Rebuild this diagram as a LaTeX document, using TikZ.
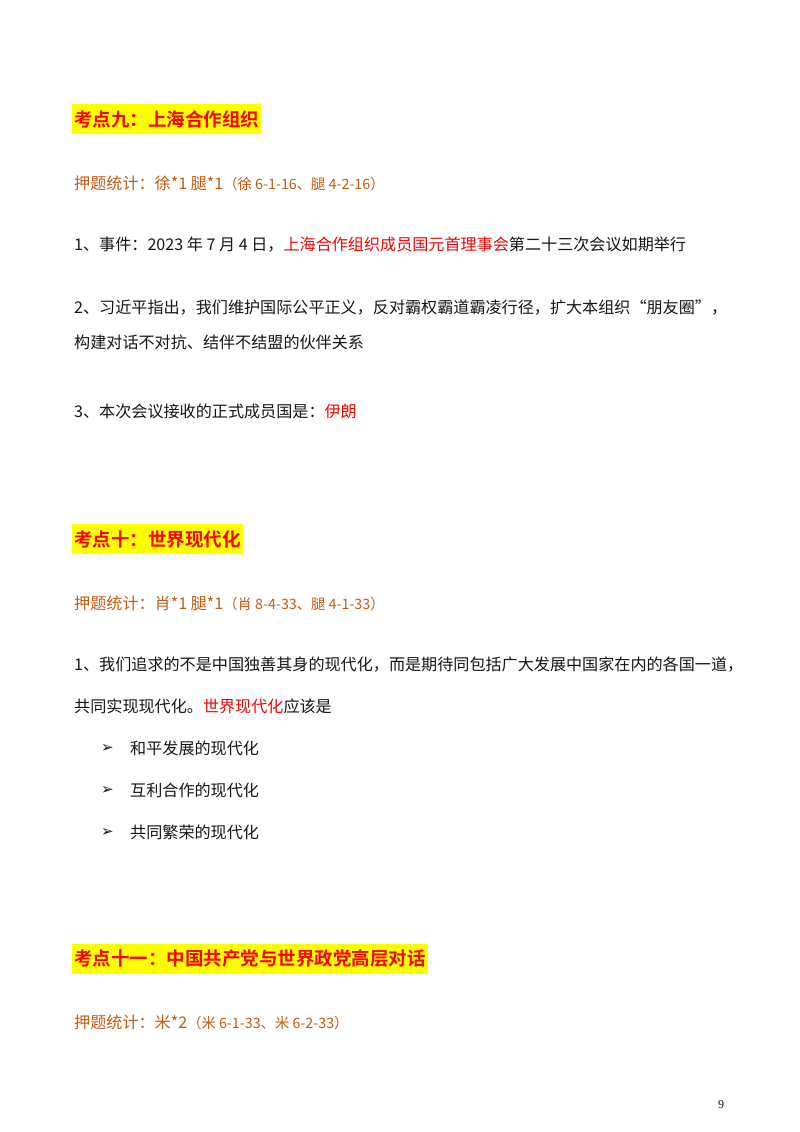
\documentclass[tikz,border=0pt]{standalone}
\usepackage{fontspec}
\setmainfont{Noto Sans CJK SC}[BoldFont={Noto Sans CJK SC Bold}]
\newfontfamily\dejavu{DejaVu Sans}
\newfontfamily\serifnum{Liberation Serif}
\definecolor{hred}{RGB}{255,0,0}
\definecolor{ora}{RGB}{197,90,17}
\definecolor{hyel}{RGB}{255,255,0}
\definecolor{txt}{RGB}{20,20,20}
\begin{document}
\begin{tikzpicture}[x=1pt,y=1pt,
  body/.style={anchor=west,inner sep=0pt,text=txt,font=\fontsize{16.1}{18}\selectfont},
  head/.style={anchor=west,fill=hyel,inner xsep=2pt,inner ysep=6pt,text=hred,font=\fontsize{18.5}{20}\selectfont\bfseries},
  stat/.style={anchor=west,inner sep=0pt,text=ora,font=\fontsize{16.1}{18}\selectfont},
  bul/.style={anchor=west,inner sep=0pt,text=txt,font=\dejavu\fontsize{15}{17}\selectfont}]
\useasboundingbox (0,0) rectangle (800,-1132);
\node[head] (h1) at (72,-119) {考点九：上海合作组织};
\node[stat] (s1) at (74,-183) {押题统计：徐*1 腿*1{\fontsize{14.3}{16}\selectfont（徐 6-1-16、腿 4-2-16）}};
\node[body] (a1) at (74,-245) {1、事件：2023 年 7 月 4 日，\textcolor{hred}{上海合作组织成员国元首理事会}第二十三次会议如期举行};
\node[body] (a2) at (74,-308) {2、习近平指出，我们维护国际公平正义，反对霸权霸道霸凌行径，扩大本组织“朋友圈”，};
\node[body] (a2b) at (74,-342) {构建对话不对抗、结伴不结盟的伙伴关系};
\node[body] (a3) at (74,-411) {3、本次会议接收的正式成员国是：\textcolor{hred}{伊朗}};
\node[head] (h2) at (72,-539) {考点十：世界现代化};
\node[stat] (s2) at (74,-603) {押题统计：肖*1 腿*1{\fontsize{14.3}{16}\selectfont（肖 8-4-33、腿 4-1-33）}};
\node[body] (b1) at (74,-665) {1、我们追求的不是中国独善其身的现代化，而是期待同包括广大发展中国家在内的各国一道，};
\node[body] (b1b) at (74,-706) {共同实现现代化。\textcolor{hred}{世界现代化}应该是};
\node[bul] (k1) at (101,-748) {➢};
\node[body] (t1) at (130,-748) {和平发展的现代化};
\node[bul] (k2) at (101,-790) {➢};
\node[body] (t2) at (130,-790) {互利合作的现代化};
\node[bul] (k3) at (101,-832) {➢};
\node[body] (t3) at (130,-832) {共同繁荣的现代化};
\node[head] (h3) at (72,-959) {考点十一：中国共产党与世界政党高层对话};
\node[stat] (s3) at (74,-1022) {押题统计：米*2{\fontsize{14.3}{16}\selectfont（米 6-1-33、米 6-2-33）}};
\node[anchor=center,inner sep=0pt,font=\serifnum\fontsize{12}{14}\selectfont,text=txt] (pg) at (721,-1105) {9};
\end{tikzpicture}
\end{document}
